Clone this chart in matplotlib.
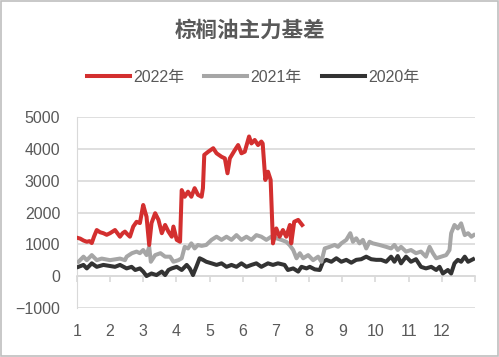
import matplotlib
matplotlib.use("Agg")
import matplotlib.pyplot as plt
from matplotlib.patches import Rectangle

plt.rcParams["font.family"] = ["Liberation Sans", "Noto Sans CJK SC"]

# month position (1 = start of Jan, 13 = end of Dec) and basis values
x_2022 = [1.03, 1.1, 1.2, 1.3, 1.38, 1.45, 1.52, 1.6, 1.7, 1.8, 1.9, 2.0, 2.15, 2.3,
          2.38, 2.45, 2.52, 2.6, 2.7, 2.8, 2.9, 3.0, 3.05, 3.1, 3.18, 3.25, 3.36,
          3.46, 3.56, 3.66, 3.76, 3.86, 3.91, 4.01, 4.11, 4.16, 4.25, 4.35, 4.45,
          4.55, 4.65, 4.76, 4.8, 4.84, 4.96, 5.11, 5.21, 5.36, 5.46, 5.54, 5.61,
          5.76, 5.86, 5.96, 6.06, 6.19, 6.26, 6.36, 6.46, 6.56, 6.6, 6.68, 6.76,
          6.84, 6.91, 7.01, 7.11, 7.21, 7.31, 7.42, 7.46, 7.55, 7.67, 7.79]
y_2022 = [1200, 1180, 1120, 1080, 1100, 1040, 1250, 1450, 1380, 1350, 1300, 1350, 1450, 1240,
          1350, 1400, 1320, 1240, 1560, 1710, 1670, 2240, 2050, 1870, 980, 1670, 1980,
          1770, 1350, 1610, 1400, 1240, 1560, 1140, 1080, 2710, 2500, 2660, 2500,
          2770, 2560, 2500, 2770, 3820, 3920, 4030, 3870, 3760, 3710, 3240, 3710,
          3970, 4130, 3870, 3920, 4400, 4180, 4290, 4130, 4240, 4180, 3030, 3290,
          3030, 1030, 1500, 1240, 1450, 1240, 1610, 1030, 1710, 1770, 1610]

x_2021 = [1.05, 1.2, 1.3, 1.45, 1.6, 1.75, 2.0, 2.3, 2.45, 2.5, 2.66, 2.8, 2.9, 3.0,
          3.1, 3.18, 3.23, 3.36, 3.52, 3.66, 3.81, 3.91, 4.06, 4.16, 4.25, 4.35,
          4.45, 4.55, 4.65, 4.76, 4.9, 5.06, 5.21, 5.36, 5.51, 5.66, 5.81, 5.96,
          6.11, 6.26, 6.41, 6.56, 6.71, 6.86, 7.01, 7.16, 7.31, 7.41, 7.52, 7.62,
          7.72, 7.82, 7.97, 8.12, 8.27, 8.37, 8.47, 8.62, 8.77, 8.87, 8.97, 9.12,
          9.24, 9.32, 9.42, 9.52, 9.62, 9.72, 9.82, 9.92, 10.12, 10.32, 10.47,
          10.57, 10.67, 10.77, 10.92, 11.07, 11.22, 11.37, 11.52, 11.63, 11.73,
          11.83, 11.98, 12.13, 12.23, 12.28, 12.38, 12.48, 12.58, 12.69, 12.79,
          12.89, 12.96]
y_2021 = [450, 610, 500, 660, 500, 550, 500, 550, 500, 610, 720, 770, 720, 820,
          660, 920, 450, 660, 720, 610, 610, 450, 500, 560, 920, 870,
          1030, 870, 980, 950, 980, 1140, 1240, 1140, 1240, 1140, 1290, 1140,
          1240, 1140, 1290, 1240, 1140, 1240, 1190, 1140, 1080, 980, 820, 560,
          720, 560, 660, 500, 610, 450, 870, 920, 980, 920, 1030, 1140,
          1350, 1080, 1190, 1030, 1140, 870, 1080, 1030, 980, 920, 870,
          980, 820, 920, 770, 820, 720, 770, 610, 920, 720,
          560, 610, 660, 820, 1350, 1610, 1500, 1660, 1290, 1350,
          1240, 1290]

x_2020 = [1.05, 1.2, 1.3, 1.45, 1.6, 1.8, 2.15, 2.3, 2.5, 2.65, 2.76, 2.9, 3.0, 3.1,
          3.25, 3.4, 3.56, 3.66, 3.76, 3.86, 4.01, 4.16, 4.31, 4.4, 4.45, 4.5,
          4.6, 4.7, 4.8, 4.9, 5.06, 5.21, 5.36, 5.51, 5.66, 5.81, 5.96, 6.11,
          6.26, 6.41, 6.56, 6.76, 6.91, 7.06, 7.26, 7.36, 7.52, 7.67, 7.77, 7.92,
          8.02, 8.17, 8.32, 8.42, 8.52, 8.67, 8.82, 8.97, 9.12, 9.27, 9.42, 9.57,
          9.72, 9.87, 10.02, 10.17, 10.32, 10.47, 10.57, 10.67, 10.77, 10.92,
          11.07, 11.22, 11.37, 11.52, 11.68, 11.83, 11.93, 12.03, 12.18, 12.28,
          12.38, 12.48, 12.58, 12.69, 12.79, 12.94]
y_2020 = [290, 350, 240, 400, 290, 350, 290, 350, 240, 290, 190, 240, 140, 0,
          80, 30, 140, 30, 190, 240, 290, 190, 350, 240, 140, 30,
          290, 560, 510, 450, 400, 350, 400, 290, 350, 290, 400, 290,
          350, 400, 290, 400, 350, 400, 350, 190, 240, 140, 290, 240,
          290, 210, 190, 450, 510, 450, 560, 450, 510, 420, 510, 530,
          610, 530, 510, 510, 450, 610, 450, 630, 400, 610,
          450, 530, 290, 240, 290, 190, 290, 80, 190, 80,
          400, 510, 450, 610, 450, 530]

month_labels = [str(m) for m in range(1, 13)] + [""]

text_color = "#595959"
grid_color = "#d9d9d9"

fig = plt.figure(figsize=(4.99, 3.57), dpi=100)
ax = fig.add_axes([0.154, 0.138, 0.798, 0.533])

ax.plot(x_2020, y_2020, color="#333333", lw=2.9, label="2020年", zorder=3)
ax.plot(x_2021, y_2021, color="#a6a6a6", lw=2.9, label="2021年", zorder=3)
ax.plot(x_2022, y_2022, color="#d32f2f", lw=2.9, label="2022年", zorder=4)

ax.set_xlim(1, 13)
ax.set_ylim(-1000, 5000)
ax.set_yticks(range(-1000, 5001, 1000))
ax.grid(axis="y", color=grid_color, lw=1.2)
ax.set_axisbelow(True)

for s in ["top", "right", "bottom"]:
    ax.spines[s].set_visible(False)
ax.spines["left"].set_color(grid_color)
ax.tick_params(axis="y", length=0, labelsize=11.5, labelcolor=text_color, pad=12)

# month labels at the bottom, axis line with ticks at zero
ax.set_xticks(range(1, 14))
ax.set_xticklabels(month_labels)
ax.tick_params(axis="x", length=0, labelsize=11.5, labelcolor=text_color, pad=12)
sec = ax.secondary_xaxis(1 / 6)
sec.set_xticks(range(1, 14))
sec.set_xticklabels([])
sec.tick_params(axis="x", length=4, color=grid_color, width=1.2)
sec.spines["bottom"].set_color(grid_color)
sec.spines["bottom"].set_linewidth(1.2)

fig.text(0.5, 0.915, "棕榈油主力基差", ha="center", va="center", fontsize=15.5,
         fontweight="bold", color=text_color, family=["Noto Sans CJK SC"])

handles, labels = ax.get_legend_handles_labels()
order = [2, 1, 0]
fig.legend([handles[i] for i in order], [labels[i] for i in order],
           loc="center", bbox_to_anchor=(0.507, 0.784), ncol=3, frameon=False,
           fontsize=11.5, handlelength=2.7, handletextpad=0.2, columnspacing=1.25,
           labelcolor=text_color)

fig.patches.append(Rectangle((0.002, 0.002), 0.995, 0.995, transform=fig.transFigure,
                             fill=False, edgecolor="#bfbfbf", lw=1.2))

fig.savefig("out.png", dpi=100)
